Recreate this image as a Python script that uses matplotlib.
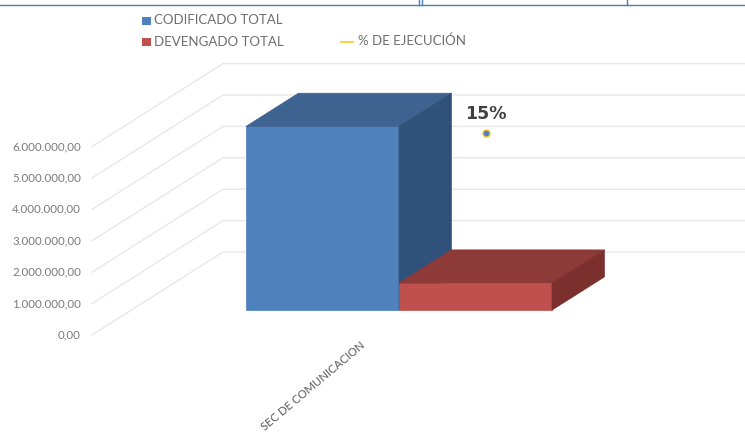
import matplotlib
matplotlib.use('Agg')
import matplotlib.pyplot as plt

plt.rcParams['font.family'] = ['Lato', 'DejaVu Sans']

# values
categoria = 'SEC DE COMUNICACION'
codificado = 5850000
devengado = 860000
ejecucion = 0.15
ticks = [0, 1000000, 2000000, 3000000, 4000000, 5000000, 6000000]
tick_labels = ['0,00', '1.000.000,00', '2.000.000,00', '3.000.000,00',
               '4.000.000,00', '5.000.000,00', '6.000.000,00']

# fake 3d, pixels per unit of value and the depth shift of the walls
px_per_val = 31.4 / 1000000
y0 = 335
depth_x = 131
depth_y = 83
wall_x = 92
wall_right = 745


def proj(x, val, d):
    # x is the pixel on the front plane, d goes 0 (front) to 1 (back wall)
    return x + depth_x * d, y0 - val * px_per_val - depth_y * d


fig = plt.figure(figsize=(7.45, 4.37), dpi=100)
ax = fig.add_axes([0, 0, 1, 1])
ax.set_xlim(0, 745)
ax.set_ylim(437, 0)
ax.axis('off')

# walls
grid_col = '#E8E8E8'
for t, lab in zip(ticks, tick_labels):
    p1 = proj(wall_x, t, 0)
    p2 = proj(wall_x, t, 1)
    ax.plot([p1[0], p2[0], wall_right], [p1[1], p2[1], p2[1]], color=grid_col, lw=1, zorder=1)
    ax.text(81, p1[1], lab, ha='right', va='center', fontsize=8.3, color='#7A7A7A')


def box(x1, x2, val, d1, d2, front, top, side):
    a = proj(x1, 0, d1)
    b = proj(x2, 0, d1)
    c = proj(x2, val, d1)
    e = proj(x1, val, d1)
    f = proj(x1, val, d2)
    g = proj(x2, val, d2)
    h = proj(x2, 0, d2)
    ax.fill(*zip(a, b, c, e), color=front, lw=0.5, zorder=3)
    ax.fill(*zip(e, c, g, f), color=top, lw=0.5, zorder=3)
    ax.fill(*zip(b, c, g, h), color=side, lw=0.5, zorder=3)


# front plane x of the bars, shifted back so the front faces land at 246..552
shift = depth_x * 0.3
box(246 - shift, 399 - shift, codificado, 0.3, 0.7, '#4F81BD', '#3F6391', '#30527A')
box(399 - shift, 552 - shift, devengado, 0.3, 0.7, '#C0504D', '#8E3A38', '#7B302E')

# % marker, secondary scale drawn in the middle of the depth
pct_scale = 5100000 / 0.15
px, py = proj(486 - depth_x * 0.5, ejecucion * pct_scale, 0.5)
ax.plot([px], [py], 'o', ms=5, mfc='#4F81BD', mec='#F5C02C', mew=1, zorder=4)
ax.text(px, py - 19, f'{ejecucion:.0%}', ha='center', va='center', fontsize=12.5,
        family='DejaVu Sans', fontweight='bold', color='#404040', zorder=4)

# category label, close to the bottom edge like the source
ax.text(360, 340, categoria, rotation=40, rotation_mode='anchor', ha='right', va='top',
        fontsize=8.2, color='#595959')

# legend by hand
ax.fill([142, 151, 151, 142], [17, 17, 25, 25], color='#4F81BD', lw=0)
ax.fill([142, 151, 151, 142], [38, 38, 46, 46], color='#C0504D', lw=0)
ax.plot([341, 353], [41.5, 41.5], color='#FFCF5A', lw=1.5)
ax.text(154, 20, 'CODIFICADO TOTAL', va='center', fontsize=9.5, color='#6E6E6E')
ax.text(154, 42, 'DEVENGADO TOTAL', va='center', fontsize=9.5, color='#6E6E6E')
ax.text(358, 41, '% DE EJECUCIÓN', va='center', fontsize=9.5, color='#6E6E6E')

# table border left over at the top of the screenshot
border = '#4A7EBB'
ax.plot([0, 745], [4.5, 4.5], color=border, lw=1)
for xv in [418.5, 422, 627]:
    ax.plot([xv, xv], [0, 4.5], color=border, lw=1)

fig.savefig('out.png', dpi=100)
